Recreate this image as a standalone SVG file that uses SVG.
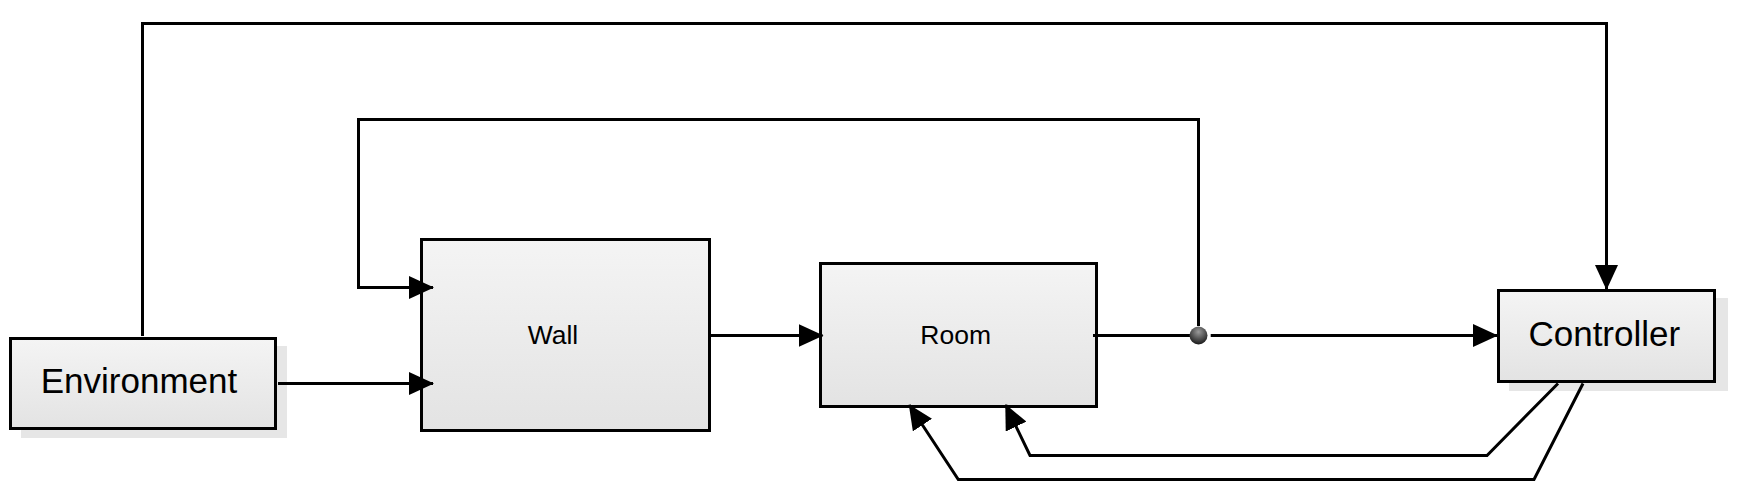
<svg xmlns="http://www.w3.org/2000/svg" width="1739" height="504" viewBox="0 0 1739 504">
<style>
.box{fill:url(#boxGrad);stroke:#000;stroke-width:3}
.shadow{fill:#e6e6e6}
.lbl{font-family:"Liberation Sans",Arial,sans-serif;fill:#000;text-anchor:middle}
.conn{fill:none;stroke:#000;stroke-width:3;stroke-linejoin:miter}
.arr{marker-end:url(#arrow)}
</style>
<defs>
<linearGradient id="boxGrad" x1="0" y1="0" x2="0" y2="1">
<stop offset="0" stop-color="#f4f4f4"/>
<stop offset="1" stop-color="#e3e3e3"/>
</linearGradient>
<radialGradient id="dotGrad" cx="0.5" cy="0.3" r="0.7">
<stop offset="0" stop-color="#999"/>
<stop offset="1" stop-color="#1a1a1a"/>
</radialGradient>
<marker id="arrow" markerUnits="userSpaceOnUse" markerWidth="25" markerHeight="23" refX="24" refY="11.5" orient="auto" viewBox="0 0 25 23">
<path d="M0,0 L25,11.5 L0,23 z" fill="#000"/>
</marker>
</defs>
<rect width="1739" height="504" fill="#fff"/>

<g id="environment">
<rect class="shadow" x="21" y="346" width="266" height="92"/>
<rect class="box" x="10.5" y="338.5" width="265" height="90"/>
<text class="lbl" x="139" y="393.3" font-size="35">Environment</text>
</g>

<g id="wall">
<rect class="box" x="421.5" y="239.5" width="288" height="191"/>
<text class="lbl" x="553" y="344" font-size="26.5">Wall</text>
</g>

<g id="room">
<rect class="box" x="820.5" y="263.5" width="276" height="143"/>
<text class="lbl" x="955.7" y="344" font-size="26.5">Room</text>
</g>

<g id="controller">
<rect class="shadow" x="1509" y="298" width="219" height="93"/>
<rect class="box" x="1498.5" y="290.5" width="216" height="91"/>
<text class="lbl" x="1604.3" y="345.7" font-size="35">Controller</text>
</g>

<g id="connectors">
<path class="conn arr" d="M142.5,336 V23.5 H1606.5 V289"/>
<path class="conn arr" d="M278,383.5 H433"/>
<path class="conn arr" d="M1198.5,326 V119.5 H358.5 V287.5 H433"/>
<path class="conn arr" d="M710,335.5 H822.5"/>
<path class="conn" d="M1093,335.5 H1198"/>
<path class="conn arr" d="M1210.7,335.5 H1497"/>
<path class="conn arr" d="M1558,383.5 L1487,455.5 H1030 L1005.7,405"/>
<path class="conn arr" d="M1583,383.5 L1534,479.5 H958.3 L909.3,405"/>
</g>

<g id="junction">
<circle cx="1198.5" cy="335.5" r="9" fill="url(#dotGrad)"/>
</g>
</svg>
